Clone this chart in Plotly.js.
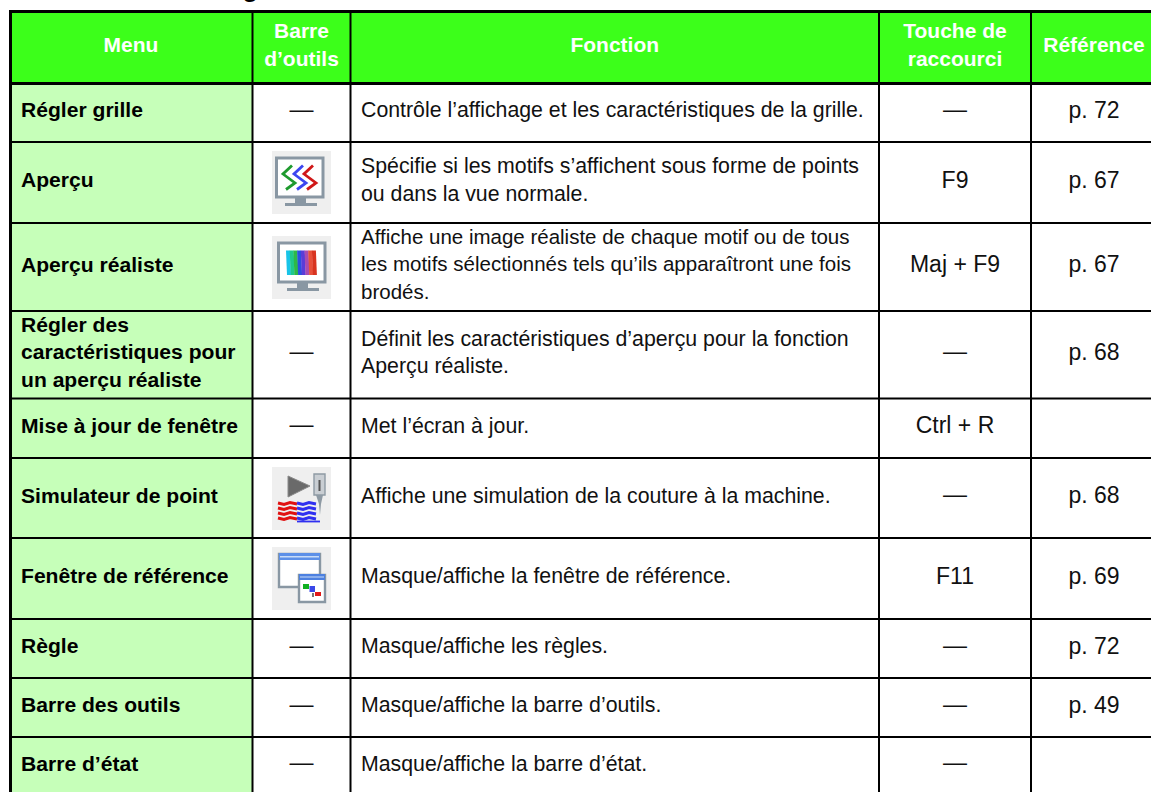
<!DOCTYPE html>
<html lang="fr"><head><meta charset="utf-8"><title>Menu</title>
<script src="https://cdn.plot.ly/plotly-3.0.1.min.js"></script>
<style>html,body{margin:0;padding:0;background:#fff;overflow:hidden}#chart{width:1151px;height:792px}</style>
</head><body><div id="chart"></div><script>
// ---- table content ----
const headers = [["Menu"],["Barre","d’outils"],["Fonction"],["Touche de","raccourci"],["Référence"]];
const menus = [["Régler grille"],["Aperçu"],["Aperçu réaliste"],["Régler des","caractéristiques pour","un aperçu réaliste"],["Mise à jour de fenêtre"],["Simulateur de point"],["Fenêtre de référence"],["Règle"],["Barre des outils"],["Barre d’état"]];
const toolbar = ["—","preview","realistic","—","—","simulator","window","—","—","—"];
const functions = [
 ["Contrôle l’affichage et les caractéristiques de la grille."],
 ["Spécifie si les motifs s’affichent sous forme de points","ou dans la vue normale."],
 ["Affiche une image réaliste de chaque motif ou de tous","les motifs sélectionnés tels qu’ils apparaîtront une fois","brodés."],
 ["Définit les caractéristiques d’aperçu pour la fonction","Aperçu réaliste."],
 ["Met l’écran à jour."],
 ["Affiche une simulation de la couture à la machine."],
 ["Masque/affiche la fenêtre de référence."],
 ["Masque/affiche les règles."],
 ["Masque/affiche la barre d’outils."],
 ["Masque/affiche la barre d’état."]];
const shortcuts = ["—","F9","Maj + F9","—","Ctrl + R","—","F11","—","—","—"];
const references = ["p. 72","p. 67","p. 67","p. 68","","p. 68","p. 69","p. 72","p. 49",""];
// ---- grid geometry (page pixels used as axis units) ----
const colEdges = [10.5,252.5,350.5,879,1031,1153];
const rowEdges = [11.5,83.5,142,223,311,398.5,458,538,619,678,737,795];
const colours = {head:"#3CFF1A", menu:"#C6FFB9", line:"#000", iconBg:"#EFEFEF", frame:"#8997A3"};
const fs = {head:21, menu:21.1, body:21.3, small:20.5, cell:23, dash:24};
const lineGap = 27.5, textLift = 0.7, dashLift = 2, headShift = -1;

const shapes = [];
const rect=(x0,y0,x1,y1,fill)=>shapes.push({type:"rect",layer:"below",x0,y0,x1,y1,fillcolor:fill,line:{width:0}});
const seg=(x0,y0,x1,y1,w)=>shapes.push({type:"line",layer:"below",x0,y0,x1,y1,line:{color:colours.line,width:w}});
rect(colEdges[0],rowEdges[0],colEdges[5],rowEdges[1],colours.head);
rect(colEdges[0],rowEdges[1],colEdges[1],rowEdges[11],colours.menu);

// ---- icons, described relative to a 59x63 tile ----
const poly=(ox,oy,pts,opt)=>{
  const d=pts.map((p,i)=>(i?"L":"M")+(ox+p[0])+" "+(oy+p[1])).join(" ")+(opt.close?" Z":"");
  shapes.push({type:"path",layer:"below",path:d,fillcolor:opt.fill||"rgba(0,0,0,0)",line:{color:opt.color||"rgba(0,0,0,0)",width:opt.width||0}});
};
const box=(ox,oy,x0,y0,x1,y1,fill,color,width)=>poly(ox,oy,[[x0,y0],[x1,y0],[x1,y1],[x0,y1]],{close:true,fill,color,width});
function monitor(ox,oy,dx,dy){
  box(ox,oy,4.5+dx,7+dy,51+dx,46+dy,"#fff",colours.frame,3);
  box(ox,oy,23+dx,47+dy,34+dx,52+dy,colours.frame);
  box(ox,oy,13+dx,52+dy,45+dx,55+dy,colours.frame);
}
const icons = {
 preview(ox,oy){
  monitor(ox,oy,0,0);
  [[20,"#1E9A2E"],[31,"#3C46F0"],[41,"#D01818"]].forEach(([x,c])=>
    poly(ox,oy,[[x,14.5],[x-9,23],[x+3,32],[x-6,38.5]],{color:c,width:2.8}));
 },
 realistic(ox,oy){
  monitor(ox,oy,2,0);
  ["#18C4E8","#1FC88C","#2EB848","#2A50E0","#5A3CD8","#A84CB0","#E8503A","#D83420"].forEach((c,i)=>
    poly(ox,oy,[[14+i*3.7,14.5],[18+i*3.7,14.5],[19+i*3.7,39],[15+i*3.7,39]],{close:true,fill:c}));
 },
 simulator(ox,oy){
  poly(ox,oy,[[16,9],[38,19],[16,30]],{close:true,fill:"#6A6A6A",color:"#8A8A8A",width:1});
  box(ox,oy,42,7,53,28,"#C9CED3","#8E9AA4",1.4);
  box(ox,oy,46.5,13,48.5,24,"#555");
  poly(ox,oy,[[44,28],[51,28],[49,37],[48,48],[47,37]],{close:true,fill:"#8E9AA4"});
  [36,41,46,51].forEach(y=>{
    poly(ox,oy,[[6,y],[12,y+1.5],[18,y-0.5],[25,y+1]],{color:"#E01010",width:3});
    poly(ox,oy,[[25,y],[31,y+1.5],[37,y-0.5],[44,y+1]],{color:"#3030F0",width:3});
  });
  poly(ox,oy,[[25,54.5],[48,54.5]],{color:"#3030F0",width:1.8});
 },
 window(ox,oy){
  box(ox,oy,7,7,48,40,"#fff",colours.frame,2.4);
  box(ox,oy,7,6,48,13,"#5C90E8");
  box(ox,oy,8,9,47,10.5,"#C8DCF8");
  box(ox,oy,27,28,53,55,"#fff",colours.frame,2.4);
  box(ox,oy,27,27,53,33,"#4C80E0");
  box(ox,oy,28,29.5,52,30.5,"#C8DCF8");
  box(ox,oy,31,37,37,42,"#10B020");
  box(ox,oy,37.5,39,43,45,"#3A48E8");
  box(ox,oy,43,45,49,49,"#E01818");
  box(ox,oy,40,46,42,50,"#777");
 }
};

// ---- text collections ----
const T = n => ({x:[],y:[],text:[],size:[],name:n});
const left=T("left"), leftBold=T("bold"), mid=T("centre"), head=T("header");
const push=(t,x,y,s,sz)=>{t.x.push(x);t.y.push(y);t.text.push(s);t.size.push(sz);};
const stack=(t,x,cy,lines,sz)=>lines.forEach((s,i)=>push(t,x,cy+(i-(lines.length-1)/2)*lineGap,s,sz));
const centre=i=>(colEdges[i]+colEdges[i+1])/2;
const colMid=[centre(0)-0.5,centre(1),centre(2),centre(3),1094];

headers.forEach((l,c)=>stack(head,colMid[c],(rowEdges[0]+rowEdges[1])/2+headShift,l,fs.head));
menus.forEach((l,r)=>{
  const cy=(rowEdges[r+1]+rowEdges[r+2])/2;
  const ty=cy-textLift, dy=cy-dashLift;
  stack(leftBold,21,ty,l,fs.menu);
  stack(left,361,ty,functions[r],r===2?fs.small:fs.body);
  if(toolbar[r]==="—") push(mid,colMid[1],dy,"—",fs.dash);
  else{
    const ox=272, oy=Math.round(cy-31.5);
    rect(ox,oy,ox+59,oy+63,colours.iconBg);
    icons[toolbar[r]](ox,oy);
  }
  if(shortcuts[r]==="—") push(mid,colMid[3],dy,"—",fs.dash);
  else push(mid,colMid[3],ty,shortcuts[r],fs.cell);
  if(references[r]) push(mid,colMid[4],ty,references[r],fs.cell);
});

// ---- grid lines ----
rowEdges.slice(2,-1).forEach(y=>seg(colEdges[0],y,1151,y,2));
colEdges.slice(1,-1).forEach(x=>seg(x,rowEdges[0],x,792,2));
seg(colEdges[0],rowEdges[0],colEdges[0],792,3);
seg(9,rowEdges[0],1151,rowEdges[0],3);
seg(9,rowEdges[1],1151,rowEdges[1],3);

const sans="Liberation Sans, Arial, sans-serif";
const trace=(t,pos,colour,weight)=>({type:"scatter",mode:"text",name:t.name,x:t.x,y:t.y,text:t.text,
  textposition:pos,cliponaxis:false,hoverinfo:"skip",showlegend:false,
  textfont:{family:sans,size:t.size,color:colour,weight}});
const data=[
  trace(head,"middle center","#fff",700),
  trace(leftBold,"middle right","#000",700),
  trace(left,"middle right","#111",400),
  trace(mid,"middle center","#111",400)
];
// Heading above the table: the crop leaves only the descender of one letter.
const annotations=[{xref:"x",yref:"paper",x:250,y:1-3/792,xanchor:"center",yanchor:"bottom",showarrow:false,
  text:"g",borderpad:0,font:{family:sans,size:27,color:"#000",weight:700}}];

const axis=r=>({range:r,visible:false,fixedrange:true,showgrid:false,zeroline:false});
Plotly.newPlot("chart",data,{width:1151,height:792,margin:{l:0,r:0,t:0,b:0,pad:0},
  paper_bgcolor:"#fff",plot_bgcolor:"#fff",showlegend:false,xaxis:axis([0,1151]),yaxis:axis([792,0]),shapes,annotations},
  {staticPlot:true,displayModeBar:false});
</script></body></html>
